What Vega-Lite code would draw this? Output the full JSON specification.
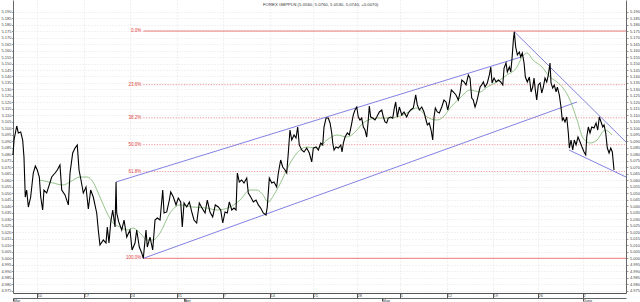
{
"$schema": "https://vega.github.io/schema/vega-lite/v6.json",
"width": 613, "height": 293,
"autosize": {"type": "none"},
"padding": {"left": 13, "right": 14, "top": 0, "bottom": 9},
"background": "white",
"config": {"view": {"stroke": null}, "font": "Liberation Sans"},
"title": {"text": "FOREX GBPPLN (5.0560, 5.0760, 5.0530, 5.0740, +0.0070)", "fontSize": 4.3, "fontWeight": "normal", "color": "#333", "anchor": "start", "dx": 262, "offset": -7, "orient": "top"},
"datasets": {
"price": [
{"d":0,"p":5.0796},{"d":0.11,"p":5.0911},{"d":0.40,"p":5.1019},{"d":0.57,"p":5.0965},{"d":0.83,"p":5.0973},{"d":1.04,"p":5.0911},{"d":1.18,"p":5.0780},{"d":1.32,"p":5.0472},{"d":1.47,"p":5.0526},{"d":1.65,"p":5.0395},{"d":1.90,"p":5.0472},{"d":2.18,"p":5.0657},{"d":2.40,"p":5.0711},{"d":2.61,"p":5.0680},{"d":2.83,"p":5.0626},{"d":2.98,"p":5.0472},{"d":3.19,"p":5.0372},{"d":3.33,"p":5.0526},{"d":3.62,"p":5.0503},{"d":3.90,"p":5.0565},{"d":4.16,"p":5.0626},{"d":4.52,"p":5.0657},{"d":4.76,"p":5.0680},{"d":5.05,"p":5.0719},{"d":5.24,"p":5.0526},{"d":5.59,"p":5.0488},{"d":5.95,"p":5.0411},{"d":6.13,"p":5.0657},{"d":6.42,"p":5.0811},{"d":6.67,"p":5.0849},{"d":6.91,"p":5.0873},{"d":7.10,"p":5.0680},{"d":7.31,"p":5.0603},{"d":7.56,"p":5.0503},{"d":7.85,"p":5.0549},{"d":8.10,"p":5.0380},{"d":8.35,"p":5.0526},{"d":8.63,"p":5.0472},{"d":9.00,"p":5.0349},{"d":9.17,"p":5.0218},{"d":9.35,"p":5.0103},{"d":9.71,"p":5.0141},{"d":10.00,"p":5.0118},{"d":10.14,"p":5.0241},{"d":10.32,"p":5.0118},{"d":10.51,"p":5.0280},{"d":10.72,"p":5.0372},{"d":10.97,"p":5.0241},{"d":11.08,"p":5.0588},{"d":11.15,"p":5.0349},{"d":11.37,"p":5.0280},{"d":11.69,"p":5.0218},{"d":11.94,"p":5.0295},{"d":12.23,"p":5.0164},{"d":12.58,"p":5.0218},{"d":12.80,"p":5.0064},{"d":13.12,"p":5.0118},{"d":13.30,"p":5.0218},{"d":13.58,"p":5.0087},{"d":13.84,"p":5.0041},{"d":14.01,"p":5.0000},{"d":14.30,"p":5.0218},{"d":14.44,"p":5.0087},{"d":14.73,"p":5.0164},{"d":15.02,"p":5.0064},{"d":15.27,"p":5.0295},{"d":15.52,"p":5.0310},{"d":15.81,"p":5.0295},{"d":16.10,"p":5.0526},{"d":16.24,"p":5.0349},{"d":16.53,"p":5.0357},{"d":16.81,"p":5.0449},{"d":16.96,"p":5.0511},{"d":17.24,"p":5.0472},{"d":17.53,"p":5.0411},{"d":17.77,"p":5.0464},{"d":18.03,"p":5.0434},{"d":18.20,"p":5.0241},{"d":18.39,"p":5.0426},{"d":18.68,"p":5.0395},{"d":18.96,"p":5.0434},{"d":19.22,"p":5.0357},{"d":19.46,"p":5.0295},{"d":19.75,"p":5.0272},{"d":20.03,"p":5.0426},{"d":20.32,"p":5.0387},{"d":20.65,"p":5.0349},{"d":20.89,"p":5.0449},{"d":21.18,"p":5.0357},{"d":21.47,"p":5.0318},{"d":21.75,"p":5.0411},{"d":22.08,"p":5.0395},{"d":22.33,"p":5.0372},{"d":22.55,"p":5.0272},{"d":22.80,"p":5.0357},{"d":23.04,"p":5.0349},{"d":23.26,"p":5.0434},{"d":23.52,"p":5.0372},{"d":23.76,"p":5.0387},{"d":23.98,"p":5.0372},{"d":24.12,"p":5.0657},{"d":24.33,"p":5.0588},{"d":24.59,"p":5.0603},{"d":24.84,"p":5.0580},{"d":25.13,"p":5.0618},{"d":25.30,"p":5.0503},{"d":25.56,"p":5.0472},{"d":25.84,"p":5.0434},{"d":26.13,"p":5.0449},{"d":26.38,"p":5.0411},{"d":26.63,"p":5.0387},{"d":26.91,"p":5.0349},{"d":27.20,"p":5.0334},{"d":27.34,"p":5.0395},{"d":27.56,"p":5.0618},{"d":27.82,"p":5.0580},{"d":28.06,"p":5.0588},{"d":28.35,"p":5.0549},{"d":28.53,"p":5.0657},{"d":28.78,"p":5.0757},{"d":29.00,"p":5.0703},{"d":29.25,"p":5.0680},{"d":29.43,"p":5.0657},{"d":29.60,"p":5.0811},{"d":29.78,"p":5.0988},{"d":29.97,"p":5.0911},{"d":30.22,"p":5.0950},{"d":30.43,"p":5.0926},{"d":30.61,"p":5.1011},{"d":30.78,"p":5.0873},{"d":31.04,"p":5.0834},{"d":31.29,"p":5.0819},{"d":31.58,"p":5.0849},{"d":31.86,"p":5.0811},{"d":32.12,"p":5.0742},{"d":32.29,"p":5.0849},{"d":32.58,"p":5.0857},{"d":32.83,"p":5.0834},{"d":33.09,"p":5.0888},{"d":33.30,"p":5.0873},{"d":33.44,"p":5.1011},{"d":33.66,"p":5.1080},{"d":33.90,"p":5.1080},{"d":34.09,"p":5.1042},{"d":34.27,"p":5.0965},{"d":34.38,"p":5.0888},{"d":34.52,"p":5.0834},{"d":34.73,"p":5.0857},{"d":34.98,"p":5.0849},{"d":35.24,"p":5.0873},{"d":35.38,"p":5.0819},{"d":35.52,"p":5.0888},{"d":35.70,"p":5.0934},{"d":35.95,"p":5.0965},{"d":36.16,"p":5.0950},{"d":36.34,"p":5.1011},{"d":36.59,"p":5.1104},{"d":36.77,"p":5.1142},{"d":36.96,"p":5.1165},{"d":37.13,"p":5.1088},{"d":37.31,"p":5.1065},{"d":37.49,"p":5.1080},{"d":37.67,"p":5.1011},{"d":37.85,"p":5.0988},{"d":38.03,"p":5.0934},{"d":38.20,"p":5.1065},{"d":38.31,"p":5.1173},{"d":38.46,"p":5.1088},{"d":38.68,"p":5.1080},{"d":38.92,"p":5.1065},{"d":39.11,"p":5.1088},{"d":39.39,"p":5.1127},{"d":39.65,"p":5.1142},{"d":39.82,"p":5.1088},{"d":40.00,"p":5.1050},{"d":40.18,"p":5.1042},{"d":40.35,"p":5.1080},{"d":40.61,"p":5.1088},{"d":40.83,"p":5.1080},{"d":41.00,"p":5.1157},{"d":41.15,"p":5.1204},{"d":41.32,"p":5.1088},{"d":41.54,"p":5.1165},{"d":41.80,"p":5.1104},{"d":42.04,"p":5.1127},{"d":42.33,"p":5.1088},{"d":42.51,"p":5.1119},{"d":42.76,"p":5.1142},{"d":43.04,"p":5.1157},{"d":43.30,"p":5.1258},{"d":43.47,"p":5.1181},{"d":43.69,"p":5.1142},{"d":43.95,"p":5.1165},{"d":44.19,"p":5.1127},{"d":44.41,"p":5.1065},{"d":44.55,"p":5.1027},{"d":44.76,"p":5.1042},{"d":44.95,"p":5.0988},{"d":45.13,"p":5.0911},{"d":45.27,"p":5.1088},{"d":45.41,"p":5.1157},{"d":45.62,"p":5.1127},{"d":45.84,"p":5.1119},{"d":46.10,"p":5.1165},{"d":46.34,"p":5.1219},{"d":46.56,"p":5.1204},{"d":46.74,"p":5.1142},{"d":46.91,"p":5.1196},{"d":47.13,"p":5.1296},{"d":47.34,"p":5.1281},{"d":47.63,"p":5.1258},{"d":47.88,"p":5.1219},{"d":48.06,"p":5.1273},{"d":48.25,"p":5.1373},{"d":48.49,"p":5.1358},{"d":48.71,"p":5.1335},{"d":48.96,"p":5.1412},{"d":49.14,"p":5.1388},{"d":49.32,"p":5.1234},{"d":49.49,"p":5.1219},{"d":49.68,"p":5.1165},{"d":49.86,"p":5.1204},{"d":50.03,"p":5.1258},{"d":50.22,"p":5.1319},{"d":50.40,"p":5.1335},{"d":50.57,"p":5.1358},{"d":50.75,"p":5.1319},{"d":51.00,"p":5.1350},{"d":51.22,"p":5.1412},{"d":51.37,"p":5.1473},{"d":51.51,"p":5.1350},{"d":51.72,"p":5.1388},{"d":51.94,"p":5.1358},{"d":52.18,"p":5.1373},{"d":52.44,"p":5.1358},{"d":52.66,"p":5.1335},{"d":52.80,"p":5.1465},{"d":53.01,"p":5.1504},{"d":53.15,"p":5.1435},{"d":53.37,"p":5.1473},{"d":53.52,"p":5.1435},{"d":53.66,"p":5.1542},{"d":53.80,"p":5.1681},{"d":53.90,"p":5.1745},{"d":54.05,"p":5.1627},{"d":54.23,"p":5.1566},{"d":54.44,"p":5.1589},{"d":54.59,"p":5.1550},{"d":54.76,"p":5.1581},{"d":54.95,"p":5.1504},{"d":55.09,"p":5.1396},{"d":55.30,"p":5.1358},{"d":55.52,"p":5.1396},{"d":55.70,"p":5.1281},{"d":55.88,"p":5.1319},{"d":56.02,"p":5.1388},{"d":56.16,"p":5.1296},{"d":56.31,"p":5.1219},{"d":56.48,"p":5.1335},{"d":56.67,"p":5.1350},{"d":56.85,"p":5.1273},{"d":57.02,"p":5.1319},{"d":57.20,"p":5.1388},{"d":57.39,"p":5.1358},{"d":57.56,"p":5.1412},{"d":57.74,"p":5.1504},{"d":57.85,"p":5.1350},{"d":58.03,"p":5.1311},{"d":58.20,"p":5.1335},{"d":58.39,"p":5.1281},{"d":58.53,"p":5.1319},{"d":58.74,"p":5.1258},{"d":58.92,"p":5.1165},{"d":59.06,"p":5.1065},{"d":59.17,"p":5.1080},{"d":59.35,"p":5.1050},{"d":59.54,"p":5.1088},{"d":59.71,"p":5.0965},{"d":59.82,"p":5.0849},{"d":60.00,"p":5.0911},{"d":60.18,"p":5.0834},{"d":60.35,"p":5.0911},{"d":60.54,"p":5.0873},{"d":60.75,"p":5.0934},{"d":60.97,"p":5.0896},{"d":61.18,"p":5.0857},{"d":61.40,"p":5.0819},{"d":61.58,"p":5.0796},{"d":61.69,"p":5.0934},{"d":61.86,"p":5.1011},{"d":62.04,"p":5.0965},{"d":62.23,"p":5.1011},{"d":62.47,"p":5.1003},{"d":62.69,"p":5.1042},{"d":62.87,"p":5.0988},{"d":63.04,"p":5.1088},{"d":63.23,"p":5.1050},{"d":63.41,"p":5.1011},{"d":63.55,"p":5.1027},{"d":63.73,"p":5.0965},{"d":63.90,"p":5.0849},{"d":64.09,"p":5.0811},{"d":64.27,"p":5.0849},{"d":64.44,"p":5.0819},{"d":64.62,"p":5.0680}
],
"ma": [
{"d":2.90,"p":5.0603},{"d":4.30,"p":5.0580},{"d":5.38,"p":5.0565},{"d":6.13,"p":5.0588},{"d":7.20,"p":5.0626},{"d":7.96,"p":5.0626},{"d":8.60,"p":5.0588},{"d":9.35,"p":5.0472},{"d":10.11,"p":5.0349},{"d":10.75,"p":5.0272},{"d":11.51,"p":5.0241},{"d":12.26,"p":5.0218},{"d":12.90,"p":5.0233},{"d":13.66,"p":5.0195},{"d":14.41,"p":5.0141},{"d":15.05,"p":5.0141},{"d":15.81,"p":5.0195},{"d":16.88,"p":5.0349},{"d":17.96,"p":5.0411},{"d":19.35,"p":5.0395},{"d":20.86,"p":5.0387},{"d":21.94,"p":5.0372},{"d":23.33,"p":5.0395},{"d":24.41,"p":5.0449},{"d":25.48,"p":5.0526},{"d":26.24,"p":5.0526},{"d":26.88,"p":5.0488},{"d":27.42,"p":5.0434},{"d":28.17,"p":5.0503},{"d":28.92,"p":5.0603},{"d":29.57,"p":5.0703},{"d":30.54,"p":5.0811},{"d":31.61,"p":5.0857},{"d":32.69,"p":5.0849},{"d":33.76,"p":5.0911},{"d":34.84,"p":5.0950},{"d":35.91,"p":5.0934},{"d":36.99,"p":5.0988},{"d":37.63,"p":5.1042},{"d":39.14,"p":5.1080},{"d":40.54,"p":5.1080},{"d":41.94,"p":5.1104},{"d":43.44,"p":5.1157},{"d":44.52,"p":5.1088},{"d":45.59,"p":5.1065},{"d":46.24,"p":5.1088},{"d":46.99,"p":5.1157},{"d":48.06,"p":5.1234},{"d":49.14,"p":5.1296},{"d":50.22,"p":5.1281},{"d":50.97,"p":5.1319},{"d":52.04,"p":5.1358},{"d":53.12,"p":5.1412},{"d":54.19,"p":5.1473},{"d":54.73,"p":5.1550},{"d":55.27,"p":5.1581},{"d":55.91,"p":5.1527},{"d":56.88,"p":5.1473},{"d":57.74,"p":5.1396},{"d":58.49,"p":5.1358},{"d":59.14,"p":5.1311},{"d":59.89,"p":5.1219},{"d":60.65,"p":5.1065},{"d":61.29,"p":5.0926},{"d":62.04,"p":5.0888},{"d":62.80,"p":5.0911},{"d":63.66,"p":5.0988},{"d":64.41,"p":5.0950}
],
"trend": [
{"id":"up_high","d":11.08,"p":5.0588},{"id":"up_high","d":54.62,"p":5.1550},
{"id":"up_low","d":14.01,"p":5.0000},{"id":"up_low","d":60.65,"p":5.1204},
{"id":"down_high","d":53.90,"p":5.1745},{"id":"down_high","d":65.91,"p":5.0895},
{"id":"down_low","d":59.78,"p":5.0834},{"id":"down_low","d":65.91,"p":5.0626}
],
"fib": [
{"pct":0,"label":"0.0%","p":5.175,"d0":14.01,"d1":65.91},
{"pct":23.6,"label":"23.6%","p":5.1337,"d0":14.01,"d1":65.91},
{"pct":38.2,"label":"38.2%","p":5.1082,"d0":14.01,"d1":65.91},
{"pct":50,"label":"50.0%","p":5.0875,"d0":14.01,"d1":65.91},
{"pct":61.8,"label":"61.8%","p":5.0668,"d0":14.01,"d1":65.91},
{"pct":100,"label":"100.0%","p":5.0,"d0":14.01,"d1":65.91}
]
},
"layer": [
{
"data": {"name": "fib"},
"transform": [{"filter": "datum.pct == 0 || datum.pct == 100"}],
"mark": {"type": "rule", "color": "#e86a6a", "strokeWidth": 0.9},
"encoding": {
"x": {"field": "d0", "type": "quantitative", "scale": {"domain": [0, 65.91], "nice": false, "zero": false}, "axis": null},
"x2": {"field": "d1"},
"y": {"field": "p", "type": "quantitative", "scale": {"domain": [4.9733, 5.1989], "nice": false, "zero": false}, "axis": null}
}
},
{
"data": {"name": "fib"},
"transform": [{"filter": "datum.pct != 0 && datum.pct != 100"}],
"mark": {"type": "rule", "color": "#ec7c7c", "strokeWidth": 0.8, "strokeDash": [1.2, 1.5]},
"encoding": {
"x": {"field": "d0", "type": "quantitative", "scale": {"domain": [0, 65.91], "nice": false, "zero": false}, "axis": null},
"x2": {"field": "d1"},
"y": {"field": "p", "type": "quantitative", "scale": {"domain": [4.9733, 5.1989], "nice": false, "zero": false}, "axis": null}
}
},
{
"data": {"name": "fib"},
"mark": {"type": "text", "color": "#e03c3c", "fontSize": 4.5, "align": "right", "baseline": "middle", "dx": -2},
"encoding": {
"x": {"field": "d0", "type": "quantitative", "scale": {"domain": [0, 65.91], "nice": false, "zero": false}, "axis": null},
"y": {"field": "p", "type": "quantitative", "scale": {"domain": [4.9733, 5.1989], "nice": false, "zero": false}, "axis": null},
"text": {"field": "label"}
}
},
{
"data": {"name": "trend"},
"mark": {"type": "line", "color": "#7474e0", "strokeWidth": 0.9},
"encoding": {
"x": {"field": "d", "type": "quantitative", "scale": {"domain": [0, 65.91], "nice": false, "zero": false}, "axis": null},
"y": {"field": "p", "type": "quantitative", "scale": {"domain": [4.9733, 5.1989], "nice": false, "zero": false}, "axis": null},
"detail": {"field": "id"}
}
},
{
"data": {"name": "ma"},
"mark": {"type": "line", "color": "#6aaa5a", "strokeWidth": 0.7, "interpolate": "monotone"},
"encoding": {
"x": {"field": "d", "type": "quantitative", "scale": {"domain": [0, 65.91], "nice": false, "zero": false},
"axis": {"orient": "bottom", "values": [0, 18.39, 39.68, 61.29], "labelExpr": "['Mar','Apr','May','June'][indexof([0,18.39,39.68,61.29], datum.value)]", "offset": 5, "grid": false, "tickSize": 3, "tickColor": "#555", "domainColor": "#666", "labelFontSize": 4, "labelAlign": "left", "labelBaseline": "top", "labelPadding": -2.5, "labelDx": 2, "labelColor": "#333", "labelFlush": false, "labelOverlap": false, "title": null}},
"y": {"field": "p", "type": "quantitative", "scale": {"domain": [4.9733, 5.1989], "nice": false, "zero": false},
"axis": {"orient": "right", "values": [4.975,4.98,4.985,4.99,4.995,5,5.005,5.01,5.015,5.02,5.025,5.03,5.035,5.04,5.045,5.05,5.055,5.06,5.065,5.07,5.075,5.08,5.085,5.09,5.095,5.1,5.105,5.11,5.115,5.12,5.125,5.13,5.135,5.14,5.145,5.15,5.155,5.16,5.165,5.17,5.175,5.18,5.185,5.19], "format": ".3f", "grid": false, "labelFontSize": 4, "tickSize": 2, "labelPadding": 1.5, "domainColor": "#666", "tickColor": "#999", "labelColor": "#444", "labelFlush": false, "labelOverlap": false, "title": null}}
}
},
{
"data": {"name": "price"},
"mark": {"type": "line", "color": "#000000", "strokeWidth": 1.1},
"encoding": {
"x": {"field": "d", "type": "quantitative", "scale": {"domain": [0, 65.91], "nice": false, "zero": false},
"axis": {"orient": "bottom", "values": [2.58, 7.63, 12.58, 17.63, 22.58, 27.63, 32.26, 36.99, 41.61, 46.67, 51.61, 56.45, 61.29], "labelExpr": "['10','17','24','31','7','14','21','28','5','12','19','26','2'][indexof([2.58,7.63,12.58,17.63,22.58,27.63,32.26,36.99,41.61,46.67,51.61,56.45,61.29], datum.value)]", "grid": true, "gridColor": "#e2e2e2", "gridDash": [1, 2], "domainColor": "#555", "tickColor": "#555", "tickSize": 5, "labelFontSize": 4, "labelAlign": "left", "labelBaseline": "top", "labelPadding": -4.5, "labelDx": 1.5, "labelColor": "#444", "labelFlush": false, "labelOverlap": false, "title": null}},
"y": {"field": "p", "type": "quantitative", "scale": {"domain": [4.9733, 5.1989], "nice": false, "zero": false},
"axis": {"orient": "left", "values": [4.975,4.98,4.985,4.99,4.995,5,5.005,5.01,5.015,5.02,5.025,5.03,5.035,5.04,5.045,5.05,5.055,5.06,5.065,5.07,5.075,5.08,5.085,5.09,5.095,5.1,5.105,5.11,5.115,5.12,5.125,5.13,5.135,5.14,5.145,5.15,5.155,5.16,5.165,5.17,5.175,5.18,5.185,5.19], "format": ".3f", "grid": true, "gridColor": "#e4e4e4", "gridDash": [1, 2], "labelFontSize": 4, "tickSize": 1.5, "labelPadding": 0.5, "domainColor": "#666", "tickColor": "#999", "labelColor": "#444", "labelFlush": false, "labelOverlap": false, "title": null}}
}
}
],
"resolve": {"axis": {"x": "independent", "y": "independent"}}
}
